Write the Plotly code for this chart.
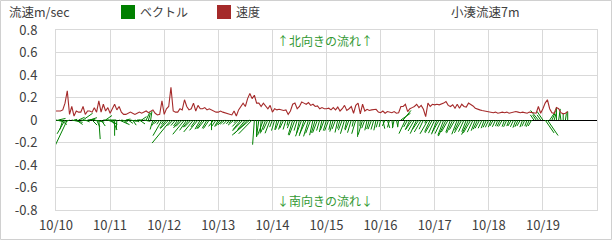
import plotly.graph_objects as go
import numpy as np

# ---------------- data ----------------
day_labels = ["10/10", "10/11", "10/12", "10/13", "10/14", "10/15", "10/16", "10/17", "10/18", "10/19"]
y_tick_vals = [-0.8, -0.6, -0.4, -0.2, 0.0, 0.2, 0.4, 0.6, 0.8]
y_tick_text = ["-0.8", "-0.6", "-0.4", "-0.2", "0", "0.2", "0.4", "0.6", "0.8"]

# hourly current speed (m/s), one list per day
speed_1010 = [0.08, 0.08, 0.08, 0.09, 0.15, 0.26, 0.05, 0.12, 0.035, 0.08, 0.07, 0.07, 0.12, 0.05, 0.08, 0.08, 0.07, 0.11, 0.07, 0.17, 0.07, 0.14, 0.08, 0.11]
speed_1011 = [0.06, 0.10, 0.14, 0.09, 0.12, 0.07, 0.05, 0.05, 0.06, 0.07, 0.06, 0.05, 0.06, 0.07, 0.06, 0.07, 0.08, 0.065, 0.08, 0.09, 0.06, 0.045, 0.05, 0.17]
speed_1012 = [0.05, 0.10, 0.12, 0.29, 0.08, 0.07, 0.07, 0.10, 0.09, 0.18, 0.12, 0.09, 0.10, 0.15, 0.08, 0.13, 0.10, 0.10, 0.11, 0.09, 0.10, 0.09, 0.08, 0.07]
speed_1013 = [0.07, 0.08, 0.07, 0.065, 0.06, 0.05, 0.045, 0.08, 0.035, 0.09, 0.12, 0.15, 0.12, 0.19, 0.235, 0.19, 0.22, 0.15, 0.15, 0.12, 0.15, 0.12, 0.10, 0.13]
speed_1014 = [0.07, 0.10, 0.09, 0.095, 0.09, 0.085, 0.09, 0.05, 0.08, 0.14, 0.15, 0.10, 0.12, 0.16, 0.15, 0.14, 0.155, 0.13, 0.14, 0.12, 0.125, 0.10, 0.11, 0.10]
speed_1015 = [0.10, 0.105, 0.09, 0.11, 0.09, 0.115, 0.08, 0.10, 0.13, 0.085, 0.10, 0.12, 0.06, 0.13, 0.15, 0.055, 0.14, 0.08, 0.095, 0.085, 0.09, 0.09, 0.095, 0.07]
speed_1016 = [0.065, 0.08, 0.06, 0.075, 0.07, 0.065, 0.075, 0.06, 0.065, 0.12, 0.12, 0.14, 0.075, 0.10, 0.11, 0.12, 0.14, 0.11, 0.13, 0.095, 0.03, 0.15, 0.12, 0.14]
speed_1017 = [0.135, 0.14, 0.135, 0.14, 0.15, 0.165, 0.13, 0.12, 0.135, 0.105, 0.14, 0.105, 0.14, 0.12, 0.115, 0.15, 0.14, 0.125, 0.105, 0.095, 0.09, 0.085, 0.08, 0.075]
speed_1018 = [0.075, 0.07, 0.065, 0.07, 0.06, 0.065, 0.07, 0.065, 0.07, 0.06, 0.065, 0.07, 0.075, 0.07, 0.065, 0.07, 0.065, 0.06, 0.07, 0.065, 0.06, 0.06, 0.12, 0.06]
speed_1019 = [0.10, 0.15, 0.18, 0.10, 0.065, 0.06, 0.11, 0.10, 0.065, 0.055, 0.06, 0.075]

# hourly flow direction (degrees clockwise from north, direction flowing toward)
dir_1010 = [100, 80, 120, 200, 215, 210, 250, 100, 80, 120, 70, 95, 60, 110, 85, 75, 130, 100, 150, 175, 140, 90, 60, 110]
dir_1011 = [120, 150, 180, 185, 110, 100, 130, 80, 120, 100, 140, 110, 90, 120, 60, 100, 30, 20, 10, 200, 215, 225, 220, 215]
dir_1012 = [220, 225, 230, 225, 230, 225, 220, 225, 230, 225, 220, 225, 230, 225, 220, 225, 215, 220, 225, 215, 220, 180, 225, 220]
dir_1013 = [215, 225, 230, 235, 230, 225, 230, 235, 225, 230, 225, 230, 225, 230, 235, 230, 185, 180, 190, 185, 205, 205, 210, 205]
dir_1014 = [205, 200, 195, 205, 200, 210, 200, 195, 205, 200, 205, 200, 195, 205, 200, 210, 200, 205, 195, 200, 205, 200, 195, 205]
dir_1015 = [200, 205, 195, 200, 205, 195, 200, 205, 200, 195, 205, 200, 195, 200, 182, 185, 200, 205, 195, 200, 205, 200, 195, 200]
dir_1016 = [195, 165, 210, 160, 200, 170, 195, 165, 190, 60, 45, 210, 215, 210, 220, 215, 210, 220, 215, 210, 195, 215, 210, 215]
dir_1017 = [210, 205, 215, 210, 205, 210, 215, 205, 210, 215, 205, 210, 215, 210, 205, 210, 215, 210, 205, 210, 215, 210, 205, 210]
dir_1018 = [210, 205, 215, 210, 205, 210, 215, 205, 210, 205, 215, 210, 205, 210, 215, 205, 210, 205, 210, 215, 320, 320, 315, 320]
dir_1019 = [320, 140, 140, 40, 30, 20, 0, 10, 350, 0, 10, 0]

legend_labels = ["ベクトル", "速度"]
legend_colors = ["#008000", "#A52A2A"]
y_title = "流速m/sec"
chart_title = "小湊流速7m"
north_note = "↑北向きの流れ↑"
south_note = "↓南向きの流れ↓"

# ---------------- build ----------------
speed = np.array(speed_1010 + speed_1011 + speed_1012 + speed_1013 + speed_1014 +
                 speed_1015 + speed_1016 + speed_1017 + speed_1018 + speed_1019)
direction = np.array(dir_1010 + dir_1011 + dir_1012 + dir_1013 + dir_1014 +
                     dir_1015 + dir_1016 + dir_1017 + dir_1018 + dir_1019, dtype=float)
t_days = np.arange(len(speed)) / 24.0  # days since 10/10 00:00

u = speed * np.sin(np.radians(direction))
v = speed * np.cos(np.radians(direction))
X_SCALE = 1.7  # days of x per m/s of eastward component

vx, vy = [], []
for ti, ui, vi in zip(t_days, u, v):
    vx += [ti, ti + ui * X_SCALE, None]
    vy += [0.0, vi, None]

GRID = "#D9D9D9"
TXT = "#404040"
FONT = "Noto Sans CJK JP"

fig = go.Figure()
fig.add_trace(go.Scatter(x=vx, y=vy, mode="lines", name=legend_labels[0],
                         line=dict(color=legend_colors[0], width=1), hoverinfo="skip"))
fig.add_trace(go.Scatter(x=t_days, y=speed, mode="lines", name=legend_labels[1],
                         line=dict(color=legend_colors[1], width=1.1)))

W, H = 612, 240
L, R, T, B = 56, 15, 30, 30
PW, PH = W - L - R, H - T - B


def px(x):
    return (x - L) / PW


def py(y):
    return (H - B - y) / PH


fig.update_layout(
    width=W, height=H,
    margin=dict(l=L, r=R, t=T, b=B, autoexpand=False),
    paper_bgcolor="white", plot_bgcolor="white",
    showlegend=False,
    font=dict(family=FONT, color=TXT, size=13),
    xaxis=dict(range=[0, 10], tickmode="array", tickvals=list(range(11)),
               ticktext=day_labels + [""], showgrid=True, gridcolor=GRID, gridwidth=1,
               zeroline=False, showline=True, mirror=True, linecolor=GRID, linewidth=1,
               automargin=False,
               ticks="", ticklabelstandoff=3, tickfont=dict(size=13, color=TXT, family=FONT)),
    yaxis=dict(range=[-0.8, 0.8], tickmode="array", tickvals=y_tick_vals, ticktext=y_tick_text,
               showgrid=True, gridcolor=GRID, gridwidth=1, zeroline=True, zerolinecolor="black",
               zerolinewidth=1, showline=True, mirror=True, linecolor=GRID, linewidth=1,
               automargin=False,
               ticks="", ticklabelstandoff=15, tickfont=dict(size=13, color=TXT, family=FONT)),
)

# chart border
fig.add_shape(type="rect", xref="paper", yref="paper",
              x0=px(0.5), x1=px(W - 0.5), y0=py(H - 0.5), y1=py(0.5),
              line=dict(color="#D0D0D0", width=1), fillcolor="rgba(0,0,0,0)", layer="below")

# custom legend
leg_x = [121, 217]
for lx, lab, col in zip(leg_x, legend_labels, legend_colors):
    fig.add_shape(type="rect", xref="paper", yref="paper",
                  x0=px(lx), x1=px(lx + 14), y0=py(19), y1=py(5),
                  line=dict(width=0), fillcolor=col)
    fig.add_annotation(xref="paper", yref="paper", x=px(lx + 17), y=py(12),
                       xanchor="left", yanchor="middle", text=lab, showarrow=False,
                       font=dict(size=12, color=TXT, family=FONT))

fig.add_annotation(xref="paper", yref="paper", x=px(7), y=py(11.5), xanchor="left",
                   yanchor="middle", text=y_title, showarrow=False,
                   font=dict(size=12.5, color=TXT, family=FONT))
fig.add_annotation(xref="paper", yref="paper", x=px(449), y=py(12), xanchor="left",
                   yanchor="middle", text=chart_title, showarrow=False,
                   font=dict(size=12.5, color=TXT, family=FONT))
fig.add_annotation(xref="paper", yref="paper", x=px(325), y=py(40.5), xanchor="center",
                   yanchor="middle", text=north_note, showarrow=False,
                   font=dict(size=12, color="#339933", family=FONT))
fig.add_annotation(xref="paper", yref="paper", x=px(325), y=py(200.5), xanchor="center",
                   yanchor="middle", text=south_note, showarrow=False,
                   font=dict(size=12, color="#339933", family=FONT))

fig.write_html("out.html")
